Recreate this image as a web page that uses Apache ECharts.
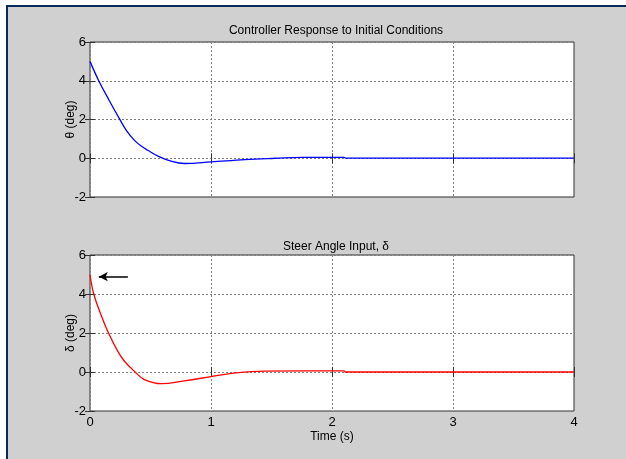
<!DOCTYPE html>
<html>
<head>
<meta charset="utf-8">
<script src="https://cdn.jsdelivr.net/npm/echarts@6/dist/echarts.min.js"></script>
<style>
  html, body { margin: 0; padding: 0; background: #ffffff; overflow: hidden; }
  #frame { position: absolute; left: 6px; top: 5px; width: 640px; height: 470px;
           background: #d0d0d0; border-top: 2px solid #0b2a57; border-left: 2px solid #0b2a57; }
  #chart { position: absolute; left: 0; top: 0; width: 626px; height: 459px; }
</style>
</head>
<body>
<div id="frame"></div>
<div id="chart"></div>
<script>
// ---- Data ----
const xTicks = [0, 1, 2, 3, 4];
const yTicks = [-2, 0, 2, 4, 6];

// Top panel: theta (deg) vs time (s)
const thetaTime = [0, 0.07, 0.16, 0.244, 0.3, 0.368, 0.42, 0.478, 0.575, 0.67, 0.78, 1.0, 1.28, 1.53, 1.75, 2.1, 2.11, 4.0];
const thetaDeg  = [5.0, 4.03, 2.97, 2.03, 1.44, 0.92, 0.64, 0.41, 0.07, -0.15, -0.27, -0.19, -0.07, 0.0, 0.05, 0.05, 0.01, 0.01];

// Bottom panel: steer angle delta (deg) vs time (s)
const deltaTime = [0, 0.031, 0.09, 0.153, 0.23, 0.285, 0.368, 0.45, 0.59, 0.78, 1.0, 1.2, 1.44, 2.1, 2.11, 4.0];
const deltaDeg  = [5.0, 4.0, 2.95, 2.0, 1.06, 0.55, 0.03, -0.39, -0.6, -0.45, -0.24, -0.05, 0.05, 0.06, 0.0, 0.0];

// Arrow annotation in bottom panel (tail -> head), data coords
const arrowTail = [0.313, 4.89];
const arrowHead = [0.073, 4.89];

const titles = ['Controller Response to Initial Conditions', 'Steer Angle Input, \u03b4'];
const yNames = ['\u03b8 (deg)', '\u03b4 (deg)'];
const xName = 'Time (s)';

// ---- Chart ----
const FONT = '"Liberation Sans", Arial, sans-serif';
const grids = [
  { left: 90, top: 42, width: 484, height: 155 },
  { left: 90, top: 255, width: 484, height: 156 }
];

function pairs(xs, ys) { return xs.map((x, i) => [x, ys[i]]); }

const xAxes = [], yAxes = [];
grids.forEach((g, i) => {
  xAxes.push({
    type: 'value', gridIndex: i, min: 0, max: 4, interval: 1, position: 'bottom',
    name: i === 1 ? xName : '', nameLocation: 'middle', nameGap: 20, nameMoveOverlap: false,
    nameTextStyle: { fontFamily: FONT, fontSize: 12, color: '#000' },
    axisLine: { show: false },
    axisTick: { show: true, inside: true, length: 5, lineStyle: { color: '#333' } },
    axisLabel: { show: i === 1, margin: 5, fontFamily: FONT, fontSize: 13, color: '#000' },
    splitLine: { show: true, lineStyle: { color: '#808080', type: [2, 2], width: 1 } }
  });
  xAxes.push({
    type: 'value', gridIndex: i, min: 0, max: 4, interval: 1, position: 'top',
    axisLine: { show: false },
    axisTick: { show: true, inside: true, length: 5, lineStyle: { color: '#333' } },
    axisLabel: { show: false }, splitLine: { show: false }
  });
  yAxes.push({
    type: 'value', gridIndex: i, min: -2, max: 6, interval: 2, position: 'left',
    name: yNames[i], nameLocation: 'middle', nameGap: 13, nameRotate: 90, nameMoveOverlap: false,
    nameTextStyle: { fontFamily: FONT, fontSize: 12, color: '#000' },
    axisLine: { show: false },
    axisTick: { show: true, inside: true, length: 5, lineStyle: { color: '#333' } },
    axisLabel: { margin: 4, fontFamily: FONT, fontSize: 13, color: '#000' },
    splitLine: { show: true, lineStyle: { color: '#808080', type: [2, 2], width: 1 } }
  });
  yAxes.push({
    type: 'value', gridIndex: i, min: -2, max: 6, interval: 2, position: 'right',
    axisLine: { show: false },
    axisTick: { show: true, inside: true, length: 5, lineStyle: { color: '#333' } },
    axisLabel: { show: false }, splitLine: { show: false }
  });
});

const option = {
  backgroundColor: 'transparent',
  animation: false,
  title: [
    { text: titles[0], left: 331, top: 20, textAlign: 'center',
      textStyle: { fontFamily: FONT, fontSize: 12, fontWeight: 'normal', color: '#000' } },
    { text: titles[1], left: 331, top: 236, textAlign: 'center',
      textStyle: { fontFamily: FONT, fontSize: 12, fontWeight: 'normal', color: '#000' } }
  ],
  grid: grids.map(g => Object.assign({ show: true, backgroundColor: '#ffffff', borderColor: '#333', borderWidth: 1 }, g)),
  xAxis: xAxes,
  yAxis: yAxes,
  series: [
    {
      type: 'line', xAxisIndex: 0, yAxisIndex: 0, data: pairs(thetaTime, thetaDeg),
      showSymbol: false, smooth: 0.4, lineStyle: { color: '#0000ff', width: 1.3 }, z: 5
    },
    {
      type: 'line', xAxisIndex: 2, yAxisIndex: 2, data: pairs(deltaTime, deltaDeg),
      showSymbol: false, smooth: 0.4, lineStyle: { color: '#ff0000', width: 1.3 }, z: 5,
      markLine: {
        silent: true, animation: false,
        symbol: ['none', 'arrow'], symbolSize: [7, 9],
        label: { show: false },
        lineStyle: { color: '#000', width: 1.5, type: 'solid' },
        data: [[{ coord: arrowTail }, { coord: arrowHead }]]
      }
    }
  ]
};

const chart = echarts.init(document.getElementById('chart'), null, { renderer: 'canvas' });
chart.setOption(option);
</script>
</body>
</html>
